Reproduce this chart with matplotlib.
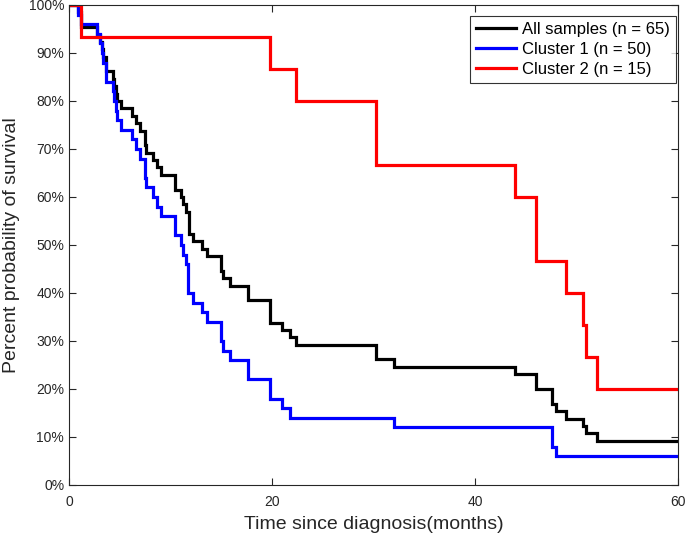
import matplotlib
matplotlib.use("Agg")
import matplotlib.pyplot as plt
from matplotlib.ticker import FuncFormatter, MultipleLocator

plt.rcParams['font.family'] = ['Liberation Sans', 'DejaVu Sans']

# ---- data (months, survival %) ----
all_times = [0, 0.92, 1.15, 2.73, 3.05, 3.22, 3.38, 3.6, 4.3, 4.45, 4.6, 4.75, 5.09,
             6.25, 6.62, 7.0, 7.45, 7.62, 8.28, 8.64, 9.03, 10.44, 11.05, 11.26,
             11.55, 11.8, 12.2, 13.07, 13.57, 14.95, 15.14, 15.9, 17.6, 19.85,
             20.96, 21.8, 22.4, 30.25, 32.05, 43.9, 46.05, 47.55, 47.95, 49.0,
             50.65, 50.9, 52.05]
all_counts = [65, 64, 62, 61, 60, 59, 58, 56, 55, 54, 53, 52, 51,
              50, 49, 48, 46, 45, 44, 43, 42, 40, 39, 38,
              37, 34, 33, 32, 31, 29, 28, 27, 25, 22,
              21, 20, 19, 17, 16, 15, 13, 11, 10, 9,
              8, 7, 6]
all_n = 65

c1_times = [0, 0.92, 1.15, 2.73, 3.05, 3.22, 3.38, 3.6, 4.3, 4.45, 4.6, 4.75, 5.09,
            6.25, 6.62, 7.0, 7.45, 7.62, 8.28, 8.64, 9.03, 10.44, 11.05, 11.26,
            11.55, 11.75, 12.2, 13.07, 13.57, 14.95, 15.14, 15.9, 17.6, 19.85,
            20.96, 21.8, 32.05, 47.55, 47.95]
c1_surv = [100, 98, 96, 94, 92, 90, 88, 84, 82, 80, 78, 76, 74,
           72, 70, 68, 64, 62, 60, 58, 56, 52, 50, 48,
           46, 40, 38, 36, 34, 30, 28, 26, 22, 18,
           16, 14, 12, 8, 6]

c2_times = [0, 1.15, 19.85, 22.4, 30.25, 43.9, 46.05, 49.0, 50.65, 50.9, 52.05]
c2_counts = [15, 14, 13, 12, 10, 9, 7, 6, 5, 4, 3]
c2_n = 15

x_end = 60
labels = ['All samples (n = 65)', 'Cluster 1 (n = 50)', 'Cluster 2 (n = 15)']
colors = ['black', 'blue', 'red']

all_surv = [100.0 * c / all_n for c in all_counts]
c2_surv = [100.0 * c / c2_n for c in c2_counts]

W, H = 685, 536
fig = plt.figure(figsize=(W / 100, H / 100), dpi=100)
ax = fig.add_axes([69 / W, 51 / H, 609 / W, 480 / H])

series = [(all_times, all_surv), (c1_times, c1_surv), (c2_times, c2_surv)]
for (t, s), lab, col in zip(series, labels, colors):
    ax.plot(list(t) + [x_end], list(s) + [s[-1]], drawstyle='steps-post',
            color=col, lw=2.3, label=lab, solid_joinstyle='miter')

ax.set_xlim(0, 60)
ax.set_ylim(0, 100)
ax.xaxis.set_major_locator(MultipleLocator(20))
ax.yaxis.set_major_locator(MultipleLocator(10))
ax.yaxis.set_major_formatter(FuncFormatter(lambda v, p: f"{int(round(v))}%"))

gray = '#262626'
for sp in ax.spines.values():
    sp.set_color(gray)
    sp.set_linewidth(0.8)
ax.tick_params(direction='in', top=True, right=True, length=5, width=0.8,
               colors=gray, labelsize=10, labelcolor=gray)
ax.tick_params(axis='x', pad=7)

ax.set_xlabel('Time since diagnosis(months)', fontsize=14, color=gray, labelpad=5)
ax.set_ylabel('Percent probability of survival', fontsize=14, color=gray, labelpad=6)

leg = ax.legend(loc='upper right', bbox_to_anchor=(676 / W, 1 - 16 / H),
                bbox_transform=fig.transFigure, fontsize=12, frameon=True,
                fancybox=False, edgecolor='black', borderpad=0.35,
                handlelength=2.4, handletextpad=0.4, labelspacing=0.31,
                borderaxespad=0.0)
leg.get_frame().set_linewidth(0.8)

fig.savefig('out.png', dpi=100)
